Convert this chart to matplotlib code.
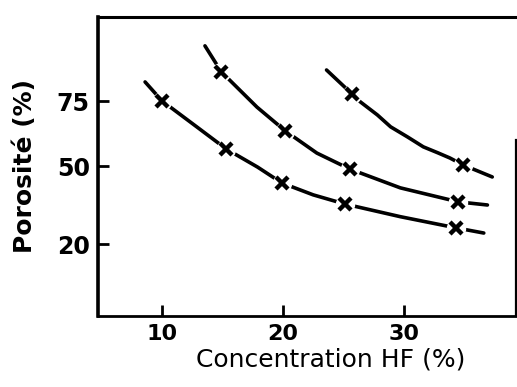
import numpy as np
import matplotlib
matplotlib.use("Agg")
import matplotlib.pyplot as plt

# values (x = HF concentration %, y = porosity %)
low_x = [8.6, 10.0, 12.9, 15.3, 17.9, 19.9, 22.5, 25.1, 29.7, 34.3, 36.6]
low_y = [82.5, 75.2, 65.1, 56.7, 49.7, 43.6, 39.0, 35.5, 30.6, 26.3, 24.3]
low_mx = [10.0, 15.3, 19.9, 25.1, 34.3]
low_my = [75.2, 56.7, 43.6, 35.5, 26.3]

mid_x = [13.55, 14.9, 17.85, 20.2, 22.8, 25.5, 29.7, 34.5, 36.9]
mid_y = [96.4, 86.4, 72.8, 63.6, 55.1, 49.0, 41.7, 36.3, 35.1]
mid_mx = [14.9, 20.2, 25.5, 34.5]
mid_my = [86.4, 63.6, 49.0, 36.3]

top_x = [23.6, 25.7, 26.4, 27.8, 28.9, 30.3, 31.6, 32.8, 33.8, 34.9, 37.3]
top_y = [87.1, 77.9, 74.8, 69.8, 65.2, 61.3, 57.5, 55.2, 53.2, 50.5, 45.9]
top_mx = [25.7, 34.9]
top_my = [77.9, 50.5]

xticks = [10, 20, 30]
yticks = [20, 50, 75]

fig = plt.figure(figsize=(5.17, 3.87), dpi=100)
ax = fig.add_axes([0.1896, 0.1835, 0.8084, 0.7725])

for cx, cy, mx, my in [(low_x, low_y, low_mx, low_my),
                       (mid_x, mid_y, mid_mx, mid_my),
                       (top_x, top_y, top_mx, top_my)]:
    ax.plot(cx, cy, color="black", lw=2.6, solid_capstyle="round", zorder=2)
    ax.plot(mx, my, "o", ms=13, color="white", mec="white", zorder=3)
    ax.plot(mx, my, "x", ms=8, mew=3.2, color="black", zorder=4)

ax.set_xlim(4.71, 39.26)
ax.set_ylim(-7.65, 107.5)

ax.set_xticks(xticks)
ax.set_yticks(yticks)
ax.tick_params(direction="in", length=8, width=2, colors="black")
ax.tick_params(axis="x", pad=6, labelsize=16)
ax.tick_params(axis="y", pad=6, labelsize=17)
for lab in ax.get_xticklabels() + ax.get_yticklabels():
    lab.set_fontweight("bold")

ax.spines["left"].set_linewidth(2.6)
ax.spines["bottom"].set_linewidth(2.0)
ax.spines["top"].set_linewidth(2.2)
ax.spines["right"].set_linewidth(1.6)
ax.spines["right"].set_bounds(-7.65, 60)

fig.text(0.64, 0.072, "Concentration HF (%)", ha="center", va="center",
         fontsize=18)
fig.text(0.048, 0.57, "Porosité (%)", ha="center", va="center",
         rotation=90, fontsize=18, fontweight="bold")

fig.savefig("out.png", dpi=100)
